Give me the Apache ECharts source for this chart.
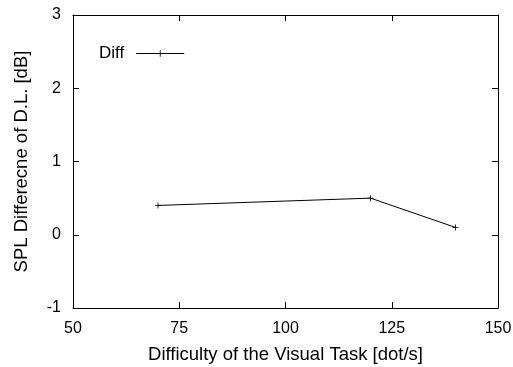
<!DOCTYPE html>
<html>
<head>
<meta charset="utf-8">
<script src="https://cdn.jsdelivr.net/npm/echarts@6/dist/echarts.min.js"></script>
<style>
  html, body { margin: 0; padding: 0; background: #fff; }
  #chart { width: 513px; height: 367px; }
</style>
</head>
<body>
<div id="chart"></div>
<script>
  // data
  const taskSpeed = [70, 120, 140];
  const diffValues = [0.4, 0.5, 0.1];
  const seriesName = 'Diff';

  const plusSymbol = 'path://M0,2.6H6V3.4H0Z M2.6,0H3.4V6H2.6Z';
  const font = 'Liberation Sans';

  const chart = echarts.init(document.getElementById('chart'));

  const option = {
    backgroundColor: '#fff',
    animation: false,
    textStyle: { fontFamily: font },
    grid: { left: 73, right: 15, top: 15, bottom: 59, outerBoundsMode: 'none', containLabel: false },
    legend: {
      data: [seriesName],
      left: 94,
      top: 40,
      align: 'right',
      itemWidth: 48,
      itemHeight: 8,
      lineStyle: { width: 1 },
      textStyle: { fontFamily: font, fontSize: 17, color: '#000', padding: [0, 7, 0, 0] }
    },
    xAxis: [
      {
        type: 'value',
        min: 50, max: 150, interval: 25,
        name: 'Difficulty of the Visual Task [dot/s]',
        nameLocation: 'middle',
        nameGap: 37,
        nameTextStyle: { fontFamily: font, fontSize: 18.5, color: '#000' },
        axisLine: { onZero: false, lineStyle: { color: '#000', width: 1 } },
        axisTick: { inside: true, length: 6, lineStyle: { color: '#000' } },
        axisLabel: { fontFamily: font, fontSize: 16, color: '#000', margin: 13 },
        splitLine: { show: false }
      },
      {
        type: 'value', position: 'top',
        min: 50, max: 150, interval: 25,
        axisLine: { show: true, onZero: false, lineStyle: { color: '#000', width: 1 } },
        axisTick: { inside: true, length: 6, lineStyle: { color: '#000' } },
        axisLabel: { show: false },
        splitLine: { show: false }
      }
    ],
    yAxis: [
      {
        type: 'value',
        min: -1, max: 3, interval: 1,
        name: 'SPL Differecne of D.L. [dB]',
        nameLocation: 'middle',
        nameGap: 42,
        nameTextStyle: { fontFamily: font, fontSize: 18.5, color: '#000' },
        axisLine: { show: true, onZero: false, lineStyle: { color: '#000', width: 1 } },
        axisTick: { show: true, inside: true, length: 6, lineStyle: { color: '#000' } },
        axisLabel: { fontFamily: font, fontSize: 16, color: '#000', margin: 12 },
        splitLine: { show: false }
      },
      {
        type: 'value', position: 'right',
        min: -1, max: 3, interval: 1,
        axisLine: { show: true, onZero: false, lineStyle: { color: '#000', width: 1 } },
        axisTick: { show: true, inside: true, length: 6, lineStyle: { color: '#000' } },
        axisLabel: { show: false },
        splitLine: { show: false }
      }
    ],
    series: [
      {
        name: seriesName,
        type: 'line',
        data: taskSpeed.map((x, i) => [x, diffValues[i]]),
        symbol: plusSymbol,
        symbolSize: 6,
        itemStyle: { color: '#000' },
        lineStyle: { color: '#000', width: 1 }
      }
    ]
  };

  chart.setOption(option);
</script>
</body>
</html>
